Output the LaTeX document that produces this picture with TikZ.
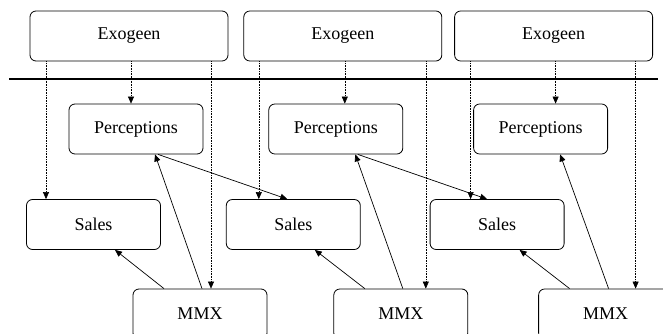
\documentclass[tikz,border=0pt]{standalone}
\usepackage{fontspec}
\setmainfont{Liberation Serif}
\usetikzlibrary{positioning,arrows.meta}

\tikzset{
	box/.style={draw, rounded corners=6pt, line width=0.8pt, minimum width=134pt, minimum height=50pt, inner sep=0pt, font=\fontsize{18}{20}\selectfont},
	exo/.style={box, minimum width=198pt},
	infl/.style={line width=0.7pt, -{Triangle[length=7pt,width=6pt]}},
	dep/.style={line width=0.6pt, densely dotted, -{Triangle[length=7pt,width=6pt]}}
}

\begin{document}
\begin{tikzpicture}[x=1pt, y=-1pt]
	\useasboundingbox (0,0) rectangle (663,334);
	\clip (0,0) rectangle (663,334);

	% exogenous row
	\node[exo] (exo1) at (129,36) {Exogeen};
	\node[exo, right=15pt of exo1] (exo2) {Exogeen};
	\node[exo, right=12pt of exo2] (exo3) {Exogeen};

	\draw[line width=1.6pt] (9,79) -- (658,79);

	% perceptions, sales, mmx per period
	\node[box] (per1) at (136,129) {Perceptions};
	\node[box, right=65pt of per1] (per2) {Perceptions};
	\node[box, right=70pt of per2] (per3) {Perceptions};

	\node[box] (sales1) at (93.5,224.5) {Sales};
	\node[box, right=65pt of sales1] (sales2) {Sales};
	\node[box, right=69pt of sales2] (sales3) {Sales};

	\node[box] (mmx1) at (200,314) {MMX};
	\node[box, right=66pt of mmx1] (mmx2) {MMX};
	\node[box, right=70pt of mmx2] (mmx3) {MMX};

	% exogenous influences
	\draw[dep] ([xshift=-83pt]exo1.south) -- ([xshift=-83pt]exo1.south |- sales1.north);
	\draw[dep] ([xshift=2pt]exo1.south) -- ([xshift=2pt]exo1.south |- per1.north);
	\draw[dep] ([xshift=82pt]exo1.south) -- ([xshift=82pt]exo1.south |- mmx1.north);
	\draw[dep] ([xshift=-84pt]exo2.south) -- ([xshift=-84pt]exo2.south |- sales2.north);
	\draw[dep] ([xshift=2pt]exo2.south) -- ([xshift=2pt]exo2.south |- per2.north);
	\draw[dep] ([xshift=83pt]exo2.south) -- ([xshift=83pt]exo2.south |- mmx2.north);
	\draw[dep] ([xshift=-83pt]exo3.south) -- ([xshift=-83pt]exo3.south |- sales3.north);
	\draw[dep] ([xshift=2pt]exo3.south) -- ([xshift=2pt]exo3.south |- per3.north);
	\draw[dep] ([xshift=82pt]exo3.south) -- ([xshift=82pt]exo3.south |- mmx3.north);

	% mmx effects
	\draw[infl] ([xshift=-36pt]mmx1.north) -- ([xshift=21.5pt]sales1.south);
	\draw[infl] ([xshift=2pt]mmx1.north) -- ([xshift=19pt]per1.south);
	\draw[infl] ([xshift=-36pt]mmx2.north) -- ([xshift=21.5pt]sales2.south);
	\draw[infl] ([xshift=2pt]mmx2.north) -- ([xshift=19.5pt]per2.south);
	\draw[infl] ([xshift=-36pt]mmx3.north) -- ([xshift=22.5pt]sales3.south);
	\draw[infl] ([xshift=3pt]mmx3.north) -- ([xshift=19.5pt]per3.south);

	% carry-over
	\draw[infl] ([xshift=22pt]per1.south) -- ([xshift=-6pt]sales2.north);
	\draw[infl] ([xshift=22pt]per2.south) -- ([xshift=-10pt]sales3.north);
\end{tikzpicture}
\end{document}
